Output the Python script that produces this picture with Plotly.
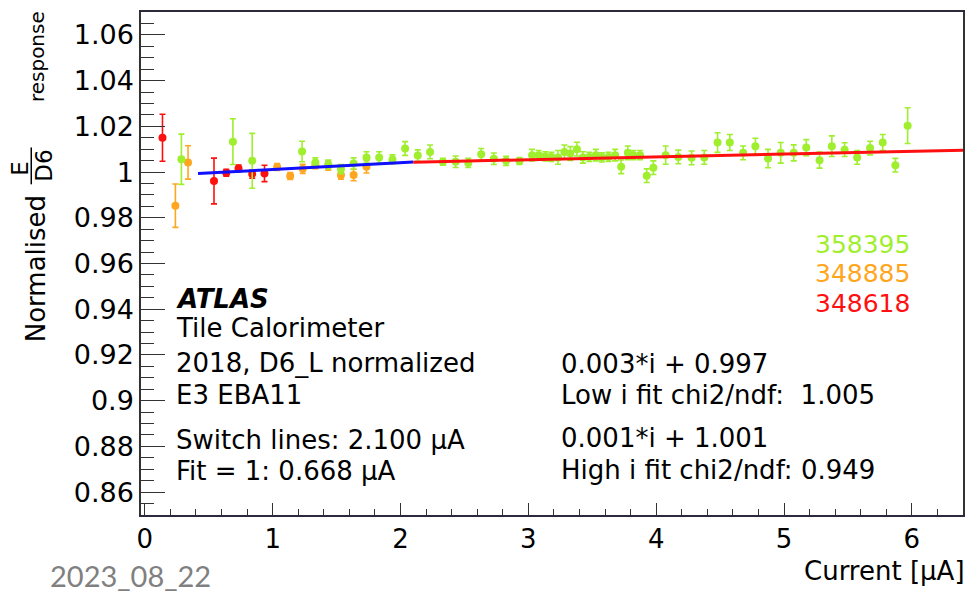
import plotly.graph_objects as go

# ---------------- data ----------------
red_x = [0.138, 0.541, 0.637, 0.733, 0.840, 0.936]
red_y = [1.0150, 0.9961, 0.9997, 1.0016, 0.9991, 0.9994]
red_e = [0.0103, 0.0100, 0.0015, 0.0015, 0.0018, 0.0036]

orange_x = [0.239, 0.338, 1.035, 1.137, 1.235, 1.334, 1.435, 1.534, 1.633, 1.734]
orange_y = [0.9853, 1.0042, 1.0022, 0.9983, 1.0014, 1.0030, 1.0028, 0.9987, 0.9987, 1.0023]
orange_e = [0.0095, 0.0073, 0.0015, 0.0015, 0.0020, 0.0015, 0.0020, 0.0018, 0.0025, 0.0027]

green_x = [0.286, 0.689, 0.840, 1.230, 1.334, 1.435, 1.534, 1.633, 1.734, 1.833,
           1.937, 2.036, 2.135, 2.231, 2.332, 2.431, 2.530, 2.631, 2.730, 2.826,
           2.931, 3.029, 3.081, 3.133, 3.180, 3.232, 3.282, 3.328, 3.380, 3.427,
           3.477, 3.528, 3.575, 3.627, 3.679, 3.726, 3.778, 3.822, 3.874, 3.926,
           3.978, 4.074, 4.173, 4.277, 4.376, 4.480, 4.576, 4.680, 4.776, 4.875,
           4.974, 5.076, 5.174, 5.278, 5.374, 5.474, 5.572, 5.673, 5.772, 5.871,
           5.967]
green_y = [1.0056, 1.0133, 1.0049, 1.0090, 1.0042, 1.0033, 1.0013, 1.0037, 1.0064, 1.0064,
           1.0055, 1.0103, 1.0072, 1.0088, 1.0045, 1.0045, 1.0040, 1.0078, 1.0058, 1.0049,
           1.0048, 1.0074, 1.0074, 1.0069, 1.0066, 1.0064, 1.0088, 1.0081, 1.0100, 1.0064,
           1.0066, 1.0074, 1.0064, 1.0066, 1.0074, 1.0023, 1.0084, 1.0074, 1.0074, 0.9984,
           1.0019, 1.0074, 1.0066, 1.0062, 1.0064, 1.0129, 1.0129, 1.0084, 1.0113, 1.0059,
           1.0084, 1.0084, 1.0107, 1.0052, 1.0113, 1.0098, 1.0064, 1.0105, 1.0129, 1.0030,
           1.0203]
green_e = [0.0110, 0.0100, 0.0120, 0.0045, 0.0020, 0.0020, 0.0020, 0.0025, 0.0025, 0.0025,
           0.0020, 0.0030, 0.0025, 0.0030, 0.0015, 0.0025, 0.0020, 0.0025, 0.0025, 0.0020,
           0.0015, 0.0025, 0.0020, 0.0020, 0.0020, 0.0030, 0.0030, 0.0030, 0.0030, 0.0025,
           0.0020, 0.0025, 0.0020, 0.0020, 0.0025, 0.0030, 0.0030, 0.0020, 0.0020, 0.0030,
           0.0030, 0.0040, 0.0030, 0.0030, 0.0030, 0.0043, 0.0035, 0.0030, 0.0035, 0.0040,
           0.0045, 0.0035, 0.0035, 0.0035, 0.0045, 0.0030, 0.0030, 0.0030, 0.0035, 0.0030,
           0.0078]

# linear fits: (slope, intercept, x_from, x_to)
low_fit = (0.0030, 0.9981, 0.416, 2.10)
high_fit = (0.00123, 1.0017, 2.10, 6.40)

x_tick_vals = [0, 1, 2, 3, 4, 5, 6]
x_tick_text = ["0", "1", "2", "3", "4", "5", "6"]
y_tick_vals = [0.86, 0.88, 0.90, 0.92, 0.94, 0.96, 0.98, 1.00, 1.02, 1.04, 1.06]
y_tick_text = ["0.86", "0.88", "0.9", "0.92", "0.94", "0.96", "0.98", "1", "1.02", "1.04", "1.06"]

runs = ["358395", "348885", "348618"]
GREEN, ORANGE, RED, BLUE = "#9fef2e", "#ffa620", "#ff1010", "#1010ff"

# ---------------- figure ----------------
W, H = 975, 592
L, R, T, B = 141, 10, 10, 77
PW, PH = W - L - R, H - T - B
FONT = "DejaVu Sans"


def px(x):
    return (x - L) / PW


def py(y):
    return (H - B - y) / PH


fig = go.Figure()

for xs, ys, es, col in [(red_x, red_y, red_e, RED),
                        (orange_x, orange_y, orange_e, ORANGE),
                        (green_x, green_y, green_e, GREEN)]:
    fig.add_trace(go.Scatter(
        x=xs, y=ys, mode="markers",
        marker=dict(color=col, size=8, symbol="circle"),
        error_y=dict(type="data", array=es, visible=True, color=col,
                     thickness=1.6, width=3),
        showlegend=False, hoverinfo="skip"))

for (m, c, x0, x1), col in [(low_fit, BLUE), (high_fit, RED)]:
    fig.add_trace(go.Scatter(
        x=[x0, x1], y=[m * x0 + c, m * x1 + c], mode="lines",
        line=dict(color=col, width=3), showlegend=False, hoverinfo="skip"))

fig.update_layout(
    width=W, height=H,
    margin=dict(l=L, r=R, t=T, b=B),
    paper_bgcolor="white", plot_bgcolor="white",
    font=dict(family=FONT, color="black", size=26),
)

fig.update_xaxes(
    range=[-0.03, 6.4], showgrid=False, zeroline=False,
    showline=True, linecolor="#2a2a3a", linewidth=1.5, mirror=True,
    ticks="inside", ticklen=12, tickwidth=1.2, tickcolor="#333",
    tickmode="array", tickvals=x_tick_vals, ticktext=x_tick_text,
    tickfont=dict(size=26, family=FONT),
    minor=dict(ticks="inside", ticklen=6, tickwidth=1, tickcolor="#333",
               tickmode="linear", tick0=0, dtick=0.2, showgrid=False),
)
fig.update_yaxes(
    range=[0.85, 1.07], showgrid=False, zeroline=False,
    showline=True, linecolor="#333", linewidth=1.5, mirror=True,
    ticks="inside", ticklen=24, tickwidth=1.2, tickcolor="#333",
    tickmode="array", tickvals=y_tick_vals, ticktext=y_tick_text,
    tickfont=dict(size=27, family=FONT),
    minor=dict(ticks="inside", ticklen=13, tickwidth=1, tickcolor="#333",
               tickmode="linear", tick0=0.85, dtick=0.005, showgrid=False),
)

ann = []


def text(x, y, s, size=26, color="black", xanchor="left", angle=0, family=FONT):
    ann.append(dict(x=px(x), y=py(y), xref="paper", yref="paper", text=s,
                    showarrow=False, xanchor=xanchor, yanchor="middle",
                    textangle=angle, font=dict(size=size, color=color, family=family)))


# left block
text(174, 298, "<b><i>ATLAS</i></b>")
text(174, 327, "Tile Calorimeter")
text(174, 362, "2018, D6_L normalized")
text(174, 395, "E3 EBA11")
text(174, 440, "Switch lines: 2.100 \u00b5A")
text(174, 471, "Fit = 1: 0.668 \u00b5A")
# right block
text(560, 363, "0.003*i + 0.997")
text(560, 395, "Low i fit chi2/ndf:  1.005")
text(560, 438, "0.001*i + 1.001")
text(560, 470, "High i fit chi2/ndf: 0.949")
# run labels
for r, yy, col in zip(runs, [243, 273, 303], [GREEN, ORANGE, RED]):
    text(815, yy, r, size=25, color=col)
# axis titles
text(969, 571, "Current [\u00b5A]", xanchor="right")
text(36, 268, "Normalised", angle=-90, xanchor="center")
text(20, 167, "E", size=23, angle=-90, xanchor="center")
text(44, 164, "D6", size=23, angle=-90, xanchor="center")
text(37, 55, "response", size=20, angle=-90, xanchor="center")
# date
text(48, 576, "2023_08_22", size=29, color="#808080", family="Lato")

fig.update_layout(annotations=ann)
fig.add_shape(type="line", xref="paper", yref="paper",
              x0=px(31), x1=px(31), y0=py(146), y1=py(183),
              line=dict(color="black", width=1.5))

fig.write_html("out.html", config={"displayModeBar": False},
               post_script="document.body.style.margin='0px';document.body.style.overflow='hidden';")
